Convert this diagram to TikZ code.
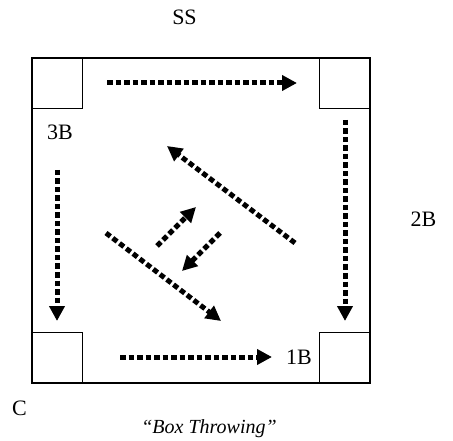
\documentclass[tikz,border=0pt]{standalone}
\usepackage{fontspec}
\setmainfont{Liberation Serif}
\usetikzlibrary{arrows.meta}
\tikzset{
  frame/.style={draw, line width=1.2pt},
  base/.style={draw, line width=1.2pt, minimum size=50pt, inner sep=0pt},
  throw/.style={line width=5pt, dash pattern=on 5.5pt off 3pt, -{Triangle[length=15pt,width=15pt]}},
  lbl/.style={font=\fontsize{22}{26}\selectfont, inner sep=0pt},
  captext/.style={font=\fontsize{20}{24}\selectfont\itshape, inner sep=0pt}
}
\begin{document}
\begin{tikzpicture}[x=1pt,y=-1pt]
\useasboundingbox (0,0) rectangle (453,441);
\draw[frame] (32,58) rectangle (370,383);
\node[base, anchor=north west] (b3) at (32,58) {};
\node[base, anchor=north east] (b2) at (370,58) {};
\node[base, anchor=south west] (bh) at (32,383) {};
\node[base, anchor=south east] (b1) at (370,383) {};
% labels
\node[lbl] (ss) at (184.5,17.5) {SS};
\node[lbl] (l3) at (60,132.5) {3B};
\node[lbl] (l2) at (423.5,219.5) {2B};
\node[lbl] (l1) at (299,357.5) {1B};
\node[lbl] (lc) at (19.5,408) {C};
\node[captext, anchor=base] (title) at (209,433.5) {“Box Throwing”};
% arrow endpoints
\coordinate (t1) at (107,83);  \coordinate (t2) at (297,83);
\coordinate (r1) at (345,120); \coordinate (r2) at (345,321);
\coordinate (w1) at (57,170);  \coordinate (w2) at (57,321);
\coordinate (h1) at (120,357); \coordinate (h2) at (272,357);
\coordinate (d1) at (295,243); \coordinate (d2) at (167,146);
\coordinate (e1) at (106,233); \coordinate (e2) at (221,321);
\coordinate (s1) at (157,246); \coordinate (s2) at (196,207);
\coordinate (u1) at (220,233); \coordinate (u2) at (182,271);
\draw[throw] (t1) -- (t2);
\draw[throw] (r1) -- (r2);
\draw[throw] (w1) -- (w2);
\draw[throw] (h1) -- (h2);
\draw[throw] (d1) -- (d2);
\draw[throw] (e1) -- (e2);
\draw[throw] (s1) -- (s2);
\draw[throw] (u1) -- (u2);
\end{tikzpicture}
\end{document}
